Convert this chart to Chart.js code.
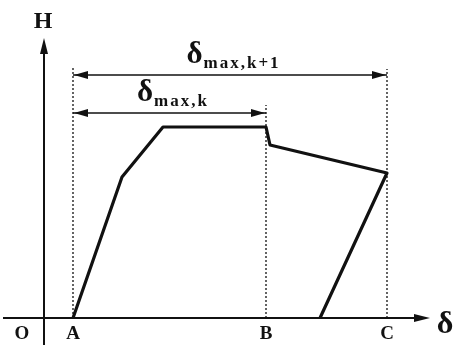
<!DOCTYPE html>
<html>
<head>
<meta charset="utf-8">
<script src="https://cdn.jsdelivr.net/npm/chart.js@4/dist/chart.umd.min.js"></script>
<style>
  html, body { margin: 0; padding: 0; background: #fff; }
  #wrap { width: 459px; height: 345px; position: relative; }
</style>
</head>
<body>
<div id="wrap"><canvas id="chart"></canvas></div>
<script>
// H-δ curve: loading branch, plateau, drop, softening, unloading
const curveX = [29, 78, 119, 222, 226, 343, 276];
const curveY = [0, 141, 191, 191, 173, 145, 0];

// reference points on the δ axis
const markLabels = ['A', 'B', 'C'];
const markX = [29, 222, 343];
const markTop = [250, 213, 249];   // top of the dotted guide lines

// dimension arrows: from A to B and from A to C
const dimFrom = [29, 29];
const dimTo = [222, 343];
const dimY = [205, 243];
const dimSub = ['max,k', 'max,k+1'];

const INK = '#111';
const SERIF = '"Liberation Serif", "DejaVu Serif", serif';

function arrowHead(ctx, x, y, dir, len, half){
  // dir: 'l' | 'r' | 'u'
  ctx.beginPath();
  if(dir==='r'){ ctx.moveTo(x,y); ctx.lineTo(x-len,y-half); ctx.lineTo(x-len,y+half); }
  if(dir==='l'){ ctx.moveTo(x,y); ctx.lineTo(x+len,y-half); ctx.lineTo(x+len,y+half); }
  if(dir==='u'){ ctx.moveTo(x,y); ctx.lineTo(x-half,y+len); ctx.lineTo(x+half,y+len); }
  ctx.closePath(); ctx.fill();
}

const sketch = {
  id: 'sketch',
  beforeDatasetsDraw(chart){
    const ctx = chart.ctx, sx = chart.scales.x, sy = chart.scales.y;
    const px = v => sx.getPixelForValue(v), py = v => sy.getPixelForValue(v);
    ctx.save();
    ctx.strokeStyle = INK; ctx.fillStyle = INK;
    // axes
    ctx.lineWidth = 2;
    ctx.beginPath();
    ctx.moveTo(px(-41), py(0)); ctx.lineTo(px(380), py(0));
    ctx.moveTo(px(0), py(-27)); ctx.lineTo(px(0), py(268));
    ctx.stroke();
    arrowHead(ctx, px(386), py(0), 'r', 16, 4);
    arrowHead(ctx, px(0), py(280), 'u', 16, 4);
    ctx.restore();
  },
  afterDatasetsDraw(chart){
    const ctx = chart.ctx, sx = chart.scales.x, sy = chart.scales.y;
    const px = v => sx.getPixelForValue(v), py = v => sy.getPixelForValue(v);
    ctx.save();
    ctx.fillStyle = INK;
    // arrowheads on the dimension lines
    dimFrom.forEach((x0,i)=>{
      arrowHead(ctx, px(x0)+1, py(dimY[i]), 'l', 14, 4);
      arrowHead(ctx, px(dimTo[i])-1, py(dimY[i]), 'r', 14, 4);
    });
    ctx.textAlign = 'center'; ctx.textBaseline = 'alphabetic';
    // axis letters
    ctx.font = 'bold 24px ' + SERIF;
    ctx.fillText('H', px(-1), py(290));
    ctx.font = 'bold 32px ' + SERIF;
    ctx.fillText('δ', px(401), py(-15));
    ctx.font = 'bold 19px ' + SERIF;
    ctx.fillText('O', px(-22), py(-21));
    markLabels.forEach((t,i)=> ctx.fillText(t, px(markX[i]), py(-21)));
    // δ_max labels above the dimension lines
    dimFrom.forEach((x0,i)=>{
      const mid = (px(x0) + px(dimTo[i])) / 2 + 3;
      ctx.letterSpacing = '0px';
      ctx.font = 'bold 31px ' + SERIF;
      const wd = ctx.measureText('δ').width;
      ctx.font = 'bold 17px ' + SERIF;
      ctx.letterSpacing = '2px';
      const ws = ctx.measureText(dimSub[i]).width;
      const left = mid - (wd + ws) / 2;
      const base = py(dimY[i]) - 12;
      ctx.textAlign = 'left';
      ctx.letterSpacing = '0px';
      ctx.font = 'bold 31px ' + SERIF;
      ctx.fillText('δ', left, base);
      ctx.font = 'bold 17px ' + SERIF;
      ctx.letterSpacing = '2px';
      ctx.fillText(dimSub[i], left + wd + 1, base + 5);
      ctx.letterSpacing = '0px';
      ctx.textAlign = 'center';
    });
    ctx.restore();
  }
};

const datasets = [
  { data: curveX.map((x,i)=>({x, y: curveY[i]})), borderColor: INK, borderWidth: 3.2,
    showLine: true, pointRadius: 0, borderJoinStyle: 'round', tension: 0 }
];
markX.forEach((x,i)=>{
  datasets.push({ data: [{x, y: 0}, {x, y: markTop[i]}], borderColor: INK, borderWidth: 1.3,
    borderDash: [2, 2], showLine: true, pointRadius: 0 });
});
dimFrom.forEach((x0,i)=>{
  datasets.push({ data: [{x: x0, y: dimY[i]}, {x: dimTo[i], y: dimY[i]}], borderColor: INK,
    borderWidth: 1.6, showLine: true, pointRadius: 0 });
});

new Chart(document.getElementById('chart'), {
  type: 'scatter',
  data: { datasets },
  options: {
    responsive: true, maintainAspectRatio: false, animation: false,
    layout: { padding: 0 },
    plugins: { legend: { display: false }, tooltip: { enabled: false } },
    scales: {
      x: { type: 'linear', min: -44, max: 415, display: false },
      y: { type: 'linear', min: -27, max: 318, display: false }
    }
  },
  plugins: [sketch]
});
</script>
</body>
</html>
